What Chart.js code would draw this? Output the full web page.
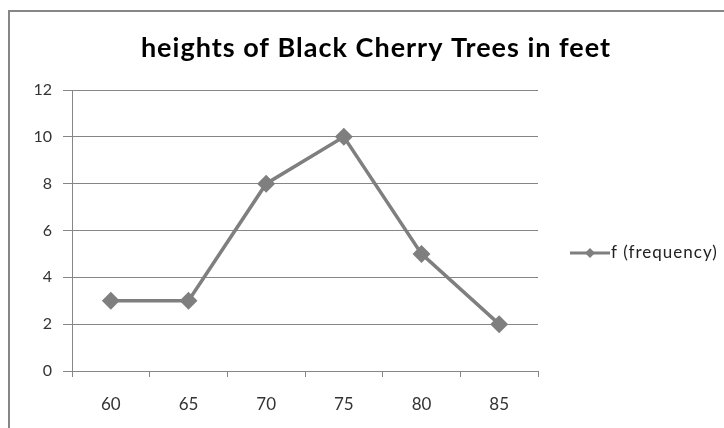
<!DOCTYPE html>
<html>
<head>
<meta charset="utf-8">
<script src="https://cdn.jsdelivr.net/npm/chart.js@4"></script>
<style>
    html, body { margin: 0; padding: 0; background: #fff; }
    #wrap { position: relative; width: 724px; height: 428px; overflow: hidden; }
    #frame { position: absolute; left: 8px; top: 10px; width: 740px; height: 460px; border: 2px solid #868686; box-sizing: border-box; }
    canvas { position: absolute; left: 0; top: 0; }
</style>
</head>
<body>
<div id="wrap">
    <div id="frame"></div>
    <canvas id="chart" width="724" height="428"></canvas>
</div>
<script>
const chartTitle = 'heights of Black Cherry Trees in feet';
const seriesName = 'f (frequency)';
const heights = ['60', '65', '70', '75', '80', '85'];
const frequency = [3, 3, 8, 10, 5, 2];

const FONT = 'Lato, "Open Sans", sans-serif';
const GRAY = '#7f7f7f';

// title centred on the whole frame, legend (line + diamond) to the right
const decor = {
    id: 'decor',
    afterDraw(chart) {
        const ctx = chart.ctx;
        ctx.save();
        ctx.fillStyle = '#000';
        ctx.font = 'bold 27px ' + FONT;
        ctx.letterSpacing = '1px';
        ctx.textAlign = 'center';
        ctx.textBaseline = 'middle';
        ctx.fillText(chartTitle, 376, 48);

        const y = 253;
        ctx.strokeStyle = GRAY;
        ctx.lineWidth = 3;
        ctx.beginPath();
        ctx.moveTo(570, y);
        ctx.lineTo(610, y);
        ctx.stroke();
        ctx.fillStyle = GRAY;
        ctx.beginPath();
        ctx.moveTo(590, y - 5);
        ctx.lineTo(595, y);
        ctx.lineTo(590, y + 5);
        ctx.lineTo(585, y);
        ctx.closePath();
        ctx.fill();
        ctx.fillStyle = '#222';
        ctx.font = '17px ' + FONT;
        ctx.letterSpacing = '1px';
        ctx.textAlign = 'left';
        ctx.fillText(seriesName, 611, y);
        ctx.restore();
    }
};

new Chart(document.getElementById('chart'), {
    type: 'line',
    data: {
        labels: heights,
        datasets: [{
            label: seriesName,
            data: frequency,
            borderColor: GRAY,
            backgroundColor: GRAY,
            borderWidth: 3.5,
            pointStyle: 'rectRot',
            pointRadius: 6.5,
            pointHoverRadius: 6.5,
            tension: 0
        }]
    },
    options: {
        responsive: false,
        animation: false,
        layout: { padding: { left: 10, right: 186, top: 90, bottom: 0 } },
        plugins: {
            legend: { display: false },
            tooltip: { enabled: false },
            title: { display: false }
        },
        scales: {
            x: {
                offset: true,
                grid: {
                    offset: true,
                    drawOnChartArea: false,
                    color: '#868686',
                    tickLength: 6
                },
                border: { color: '#868686' },
                ticks: { color: '#333', padding: 17, font: { family: FONT, size: 17 } },
                afterFit(scale) { scale.height = 57; }
            },
            y: {
                min: 0,
                max: 12,
                ticks: { stepSize: 2, color: '#333', padding: 11, font: { family: FONT, size: 16 } },
                grid: { color: '#868686', tickLength: 9 },
                border: { color: '#868686' },
                afterFit(scale) { scale.width = 62; }
            }
        }
    },
    plugins: [decor]
});
</script>
</body>
</html>
